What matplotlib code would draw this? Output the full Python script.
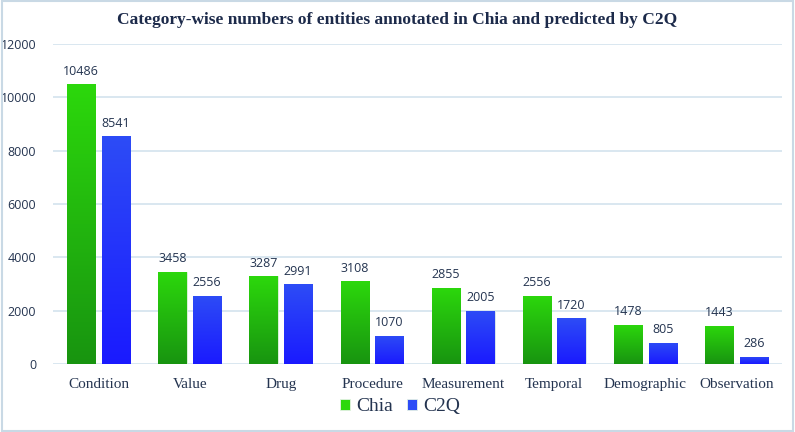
import matplotlib.pyplot as plt
import numpy as np
from matplotlib.colors import LinearSegmentedColormap
from matplotlib.patches import Rectangle

categories = ['Condition', 'Value', 'Drug', 'Procedure', 'Measurement',
              'Temporal', 'Demographic', 'Observation']
chia = [10486, 3458, 3287, 3108, 2855, 2556, 1478, 1443]
c2q = [8541, 2556, 2991, 1070, 2005, 1720, 805, 286]

text_col = '#243450'
green_cmap = LinearSegmentedColormap.from_list('g', ['#189410', '#2cd80c'])
blue_cmap = LinearSegmentedColormap.from_list('b', ['#1a1aff', '#2d4cf6'])

fig = plt.figure(figsize=(7.95, 4.32), dpi=100)
ax = fig.add_axes([0.0667, 0.157, 0.917, 0.741])

x = np.arange(len(categories))
w = 0.31
off = 0.035 + w / 2
grad = np.linspace(0, 1, 256).reshape(-1, 1)


def gradient_bars(xs, vals, cmap, name):
    bars = ax.bar(xs, vals, w, color=cmap(1.0), edgecolor='#e6f2e6', linewidth=0.6,
                  zorder=3, label=name)
    for b in bars:
        x0, y0 = b.get_x(), b.get_y()
        im = ax.imshow(grad, cmap=cmap, origin='lower', aspect='auto',
                       extent=[x0, x0 + b.get_width(), y0, y0 + b.get_height()],
                       zorder=3.5)
        im.set_clip_path(b)
    for xi, v in zip(xs, vals):
        ax.text(xi, v + 250, str(v), ha='center', va='bottom', fontsize=9,
                color=text_col, family='Open Sans')
    return bars


gradient_bars(x - off, chia, green_cmap, 'Chia')
gradient_bars(x + off, c2q, blue_cmap, 'C2Q')

ax.set_xlim(-0.5, len(categories) - 0.5)
ax.set_ylim(0, 12000)
ax.set_yticks(range(0, 12001, 2000))
ax.yaxis.grid(True, color='#d3e3ee', linewidth=1.2, zorder=0)
ax.set_axisbelow(True)
for s in ax.spines.values():
    s.set_visible(False)
ax.tick_params(length=0)
ax.tick_params(axis='y', labelsize=9, labelcolor=text_col, pad=12)
ax.set_xticks(x)
ax.set_xticklabels(categories, family='Liberation Serif', fontsize=11, color=text_col)
ax.tick_params(axis='x', pad=10)
for t in ax.get_yticklabels():
    t.set_family('Open Sans')

fig.text(0.5, 0.953, 'Category-wise numbers of entities annotated in Chia and predicted by C2Q',
         ha='center', va='center', family='Liberation Serif', fontweight='bold',
         fontsize=12.5, color='#1c2a4a')

leg = fig.legend(loc='center', bbox_to_anchor=(0.503, 0.058), ncol=2, frameon=False,
                 prop={'family': 'Liberation Serif', 'size': 14}, handlelength=0.55,
                 handleheight=0.55, handletextpad=0.3, columnspacing=0.7,
                 labelcolor=text_col)

fig.patches.append(Rectangle((0.002, 0.003), 0.996, 0.994, transform=fig.transFigure,
                             fill=False, edgecolor='#c9d9e5', linewidth=1.5))

fig.savefig('out.png', dpi=100)
